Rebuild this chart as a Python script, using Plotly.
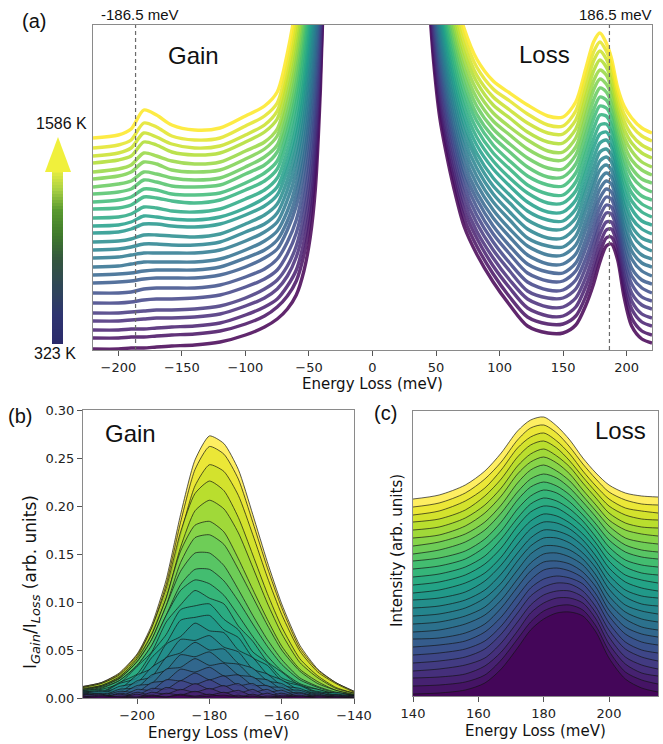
import plotly.graph_objects as go
from plotly.colors import sample_colorscale

W, H = 663, 744
N = 26  # temperatures 323 K ... 1586 K

# ---------------- Panel (a): stacked spectra (offset units, 0 = bottom of axis) -------------
energy_gain_a = [-220, -200, -190, -180, -170, -158, -140, -120, -100, -85, -75, -67, -60, -54, -49, -45, -41, -37]
# one row per curve, from 323 K (row 0) to 1586 K (row 25)
gain_a = [
    [1, 1, 2, 2, 3, 4, 5, 8, 15, 23, 31, 41, 55, 79, 113, 161, 261, 421],
    [12, 12, 13, 13, 14, 15, 16, 19, 26, 34, 43, 54, 69, 95, 131, 180, 278, 435],
    [20, 20, 21, 21, 22, 23, 24, 27, 35, 43, 51, 64, 80, 108, 145, 195, 293, 446],
    [29, 29, 30, 31, 32, 32, 33, 36, 44, 52, 61, 74, 93, 122, 161, 212, 308, 459],
    [37, 37, 38, 39, 40, 40, 41, 44, 52, 61, 70, 84, 104, 135, 176, 227, 323, 470],
    [47, 47, 48, 50, 51, 51, 52, 55, 63, 71, 80, 96, 117, 149, 193, 245, 339, 483],
    [57, 57, 58, 61, 62, 62, 62, 65, 73, 81, 91, 108, 130, 164, 209, 263, 355, 496],
    [67, 68, 69, 71, 72, 72, 72, 75, 83, 92, 101, 120, 144, 179, 226, 280, 372, 509],
    [75, 76, 77, 79, 80, 80, 80, 83, 92, 100, 110, 129, 155, 192, 241, 296, 386, 521],
    [83, 84, 86, 88, 88, 88, 88, 91, 100, 109, 119, 139, 166, 205, 255, 311, 401, 532],
    [92, 93, 95, 97, 97, 97, 97, 100, 109, 118, 128, 150, 178, 219, 271, 328, 416, 544],
    [100, 101, 103, 106, 106, 105, 105, 108, 118, 126, 137, 160, 190, 232, 286, 344, 430, 555],
    [108, 109, 111, 115, 115, 114, 113, 116, 126, 135, 146, 170, 201, 245, 301, 359, 445, 566],
    [117, 118, 121, 126, 126, 124, 123, 126, 135, 144, 155, 180, 213, 258, 316, 376, 460, 579],
    [124, 125, 128, 134, 133, 131, 130, 133, 142, 152, 163, 189, 223, 270, 330, 390, 474, 589],
    [132, 133, 136, 143, 142, 139, 138, 141, 151, 160, 172, 199, 235, 283, 345, 406, 488, 600],
    [141, 142, 145, 153, 152, 149, 147, 150, 160, 169, 181, 210, 247, 297, 361, 423, 503, 612],
    [148, 150, 153, 161, 160, 156, 155, 157, 167, 177, 189, 219, 257, 309, 374, 437, 517, 622],
    [156, 158, 161, 170, 168, 164, 163, 165, 176, 185, 198, 228, 268, 322, 389, 453, 531, 634],
    [163, 166, 169, 178, 176, 172, 170, 172, 183, 193, 205, 237, 279, 334, 403, 467, 545, 644],
    [171, 174, 178, 188, 186, 180, 178, 180, 191, 201, 214, 247, 290, 347, 417, 483, 559, 655],
    [178, 181, 185, 197, 194, 189, 186, 188, 199, 208, 221, 256, 300, 358, 431, 498, 572, 665],
    [187, 190, 194, 208, 205, 198, 195, 197, 208, 218, 231, 267, 312, 372, 447, 514, 588, 677],
    [194, 197, 202, 217, 213, 206, 202, 204, 215, 225, 239, 275, 323, 384, 461, 529, 601, 688],
    [202, 205, 210, 227, 223, 214, 210, 212, 224, 234, 247, 285, 334, 397, 475, 544, 616, 699],
    [212, 215, 221, 240, 235, 225, 220, 222, 234, 244, 258, 297, 347, 412, 492, 562, 632, 712],
]

energy_loss_a = [44, 48, 53, 58, 64, 72, 82, 95, 108, 122, 138, 150, 160, 168, 174, 179, 184, 188, 193, 198, 204, 212, 220]
# one row per energy, 26 values per row (323 K ... 1586 K)
loss_a_by_energy = [
    [360, 370, 379, 389, 398, 408, 418, 427, 437, 446, 456, 466, 475, 485, 494, 504, 514, 523, 533, 542, 552, 562, 571, 581, 590, 600],
    [290, 299, 308, 318, 327, 336, 345, 354, 364, 373, 382, 391, 400, 410, 419, 428, 437, 446, 456, 465, 474, 483, 492, 502, 511, 520],
    [232, 241, 249, 258, 267, 276, 284, 293, 302, 311, 319, 328, 337, 345, 354, 363, 372, 380, 389, 398, 406, 415, 424, 433, 441, 450],
    [197, 205, 213, 221, 230, 238, 246, 254, 262, 270, 278, 286, 294, 303, 311, 319, 327, 335, 343, 351, 359, 368, 376, 384, 392, 400],
    [162, 170, 178, 186, 194, 202, 210, 217, 225, 233, 241, 249, 257, 265, 273, 281, 289, 297, 305, 313, 320, 328, 336, 344, 352, 360],
    [124, 132, 140, 148, 156, 164, 172, 179, 187, 195, 203, 211, 219, 227, 235, 243, 251, 259, 267, 275, 282, 290, 298, 306, 314, 322],
    [96, 104, 112, 119, 127, 135, 143, 151, 158, 166, 174, 182, 190, 197, 205, 213, 221, 229, 236, 244, 252, 260, 268, 275, 283, 291],
    [68, 76, 84, 92, 100, 108, 116, 124, 132, 140, 148, 156, 164, 172, 181, 189, 197, 205, 213, 221, 229, 237, 245, 253, 261, 269],
    [45, 53, 62, 70, 79, 87, 96, 104, 113, 121, 130, 138, 147, 155, 164, 172, 181, 189, 198, 206, 215, 223, 232, 240, 249, 257],
    [24, 33, 42, 51, 59, 68, 77, 86, 95, 104, 112, 121, 130, 139, 148, 157, 165, 174, 183, 192, 201, 210, 218, 227, 236, 245],
    [17, 26, 34, 43, 52, 60, 69, 78, 86, 95, 104, 112, 121, 130, 138, 147, 156, 165, 173, 182, 191, 199, 208, 217, 225, 234],
    [17, 26, 34, 43, 52, 60, 69, 77, 86, 95, 103, 112, 121, 129, 138, 147, 155, 164, 173, 181, 190, 198, 207, 216, 224, 233],
    [25, 34, 43, 52, 61, 70, 79, 87, 96, 105, 114, 123, 132, 141, 150, 159, 168, 177, 186, 195, 203, 212, 221, 230, 239, 248],
    [45, 54, 64, 73, 83, 92, 102, 111, 121, 130, 140, 149, 159, 168, 178, 187, 197, 206, 216, 225, 235, 244, 254, 263, 273, 282],
    [66, 76, 85, 95, 105, 114, 124, 134, 143, 153, 163, 172, 182, 192, 202, 211, 221, 231, 240, 250, 260, 269, 279, 289, 298, 308],
    [88, 97, 106, 116, 125, 134, 143, 152, 161, 170, 180, 189, 198, 207, 216, 225, 235, 244, 253, 262, 271, 280, 290, 299, 308, 317],
    [104, 112, 120, 128, 137, 145, 153, 161, 169, 177, 185, 193, 201, 210, 218, 226, 234, 242, 250, 258, 266, 275, 283, 291, 299, 307],
    [106, 113, 121, 128, 136, 143, 151, 158, 166, 173, 180, 188, 195, 203, 210, 218, 225, 233, 240, 247, 255, 262, 270, 277, 285, 292],
    [90, 97, 104, 111, 118, 124, 131, 138, 145, 152, 159, 166, 173, 179, 186, 193, 200, 207, 214, 221, 228, 235, 241, 248, 255, 262],
    [53, 61, 68, 76, 84, 91, 99, 107, 114, 122, 129, 137, 145, 152, 160, 168, 175, 183, 191, 198, 206, 213, 221, 229, 236, 244],
    [24, 32, 41, 49, 57, 66, 74, 82, 91, 99, 107, 116, 124, 132, 141, 149, 157, 165, 174, 182, 190, 199, 207, 215, 224, 232],
    [11, 19, 28, 36, 45, 53, 62, 70, 79, 87, 95, 104, 112, 121, 129, 138, 146, 154, 163, 171, 180, 188, 197, 205, 214, 222],
    [7, 15, 24, 32, 41, 49, 57, 66, 74, 83, 91, 99, 108, 116, 125, 133, 141, 150, 158, 167, 175, 183, 192, 200, 209, 217],
]

# ---------------- Panel (b): gain / loss ratio ----------------
energy_b = [-215, -210, -205, -200, -196, -192, -188, -184, -180, -176, -172, -168, -164, -160, -155, -150, -145, -140]
ratio_b = [
    [0.000, 0.002, 0.001, 0.000, 0.002, 0.001, 0.003, 0.001, 0.002, 0.003, 0.001, 0.002, 0.000, 0.001, 0.002, 0.000, 0.001, 0.000],
    [0.002, 0.000, 0.002, 0.001, 0.003, 0.001, 0.004, 0.002, 0.004, 0.001, 0.003, 0.000, 0.002, 0.001, 0.000, 0.002, 0.001, 0.000],
    [0.001, 0.003, 0.000, 0.004, 0.001, 0.005, 0.003, 0.007, 0.003, 0.006, 0.001, 0.004, 0.000, 0.003, 0.001, 0.002, 0.000, 0.001],
    [0.002, 0.000, 0.004, 0.001, 0.006, 0.004, 0.009, 0.006, 0.010, 0.005, 0.008, 0.002, 0.005, 0.001, 0.003, 0.000, 0.002, 0.000],
    [0.003, 0.004, 0.000, 0.006, 0.003, 0.011, 0.008, 0.015, 0.009, 0.013, 0.005, 0.009, 0.002, 0.005, 0.000, 0.003, 0.001, 0.002],
    [0.004, 0.000, 0.005, 0.003, 0.010, 0.009, 0.018, 0.014, 0.019, 0.012, 0.015, 0.006, 0.009, 0.002, 0.005, 0.000, 0.003, 0.001],
    [0.003, 0.004, 0.001, 0.009, 0.008, 0.019, 0.018, 0.026, 0.019, 0.023, 0.013, 0.015, 0.006, 0.008, 0.001, 0.004, 0.000, 0.002],
    [0.005, 0.001, 0.007, 0.006, 0.016, 0.018, 0.030, 0.027, 0.032, 0.023, 0.024, 0.013, 0.013, 0.005, 0.006, 0.001, 0.003, 0.000],
    [0.004, 0.005, 0.004, 0.013, 0.015, 0.030, 0.032, 0.041, 0.034, 0.036, 0.024, 0.022, 0.012, 0.011, 0.003, 0.005, 0.002, 0.002],
    [0.006, 0.002, 0.009, 0.011, 0.024, 0.029, 0.045, 0.043, 0.048, 0.037, 0.035, 0.021, 0.019, 0.009, 0.008, 0.002, 0.003, 0.001],
    [0.005, 0.007, 0.006, 0.018, 0.022, 0.042, 0.047, 0.058, 0.050, 0.051, 0.036, 0.031, 0.018, 0.015, 0.005, 0.006, 0.001, 0.002],
    [0.007, 0.004, 0.012, 0.016, 0.032, 0.042, 0.061, 0.060, 0.065, 0.053, 0.048, 0.030, 0.025, 0.013, 0.010, 0.003, 0.004, 0.002],
    [0.006, 0.008, 0.009, 0.024, 0.031, 0.056, 0.064, 0.078, 0.070, 0.068, 0.050, 0.042, 0.025, 0.019, 0.008, 0.007, 0.003, 0.002],
    [0.008, 0.005, 0.015, 0.021, 0.042, 0.057, 0.081, 0.084, 0.086, 0.071, 0.063, 0.042, 0.034, 0.018, 0.013, 0.005, 0.006, 0.002],
    [0.007, 0.006, 0.016, 0.025, 0.047, 0.066, 0.092, 0.096, 0.098, 0.082, 0.071, 0.048, 0.037, 0.021, 0.014, 0.006, 0.005, 0.003],
    [0.008, 0.009, 0.015, 0.033, 0.048, 0.079, 0.097, 0.112, 0.104, 0.098, 0.075, 0.059, 0.038, 0.027, 0.013, 0.009, 0.004, 0.003],
    [0.007, 0.010, 0.018, 0.034, 0.055, 0.086, 0.112, 0.123, 0.119, 0.107, 0.086, 0.064, 0.044, 0.028, 0.015, 0.009, 0.004, 0.002],
    [0.007, 0.011, 0.018, 0.034, 0.054, 0.086, 0.118, 0.134, 0.134, 0.122, 0.101, 0.077, 0.054, 0.035, 0.019, 0.011, 0.005, 0.002],
    [0.008, 0.012, 0.020, 0.038, 0.061, 0.096, 0.132, 0.151, 0.151, 0.138, 0.113, 0.086, 0.061, 0.040, 0.021, 0.012, 0.006, 0.003],
    [0.009, 0.012, 0.020, 0.038, 0.061, 0.096, 0.141, 0.167, 0.170, 0.160, 0.134, 0.105, 0.076, 0.050, 0.028, 0.015, 0.008, 0.003],
    [0.009, 0.013, 0.021, 0.041, 0.066, 0.104, 0.153, 0.180, 0.184, 0.173, 0.145, 0.113, 0.082, 0.054, 0.030, 0.017, 0.008, 0.004],
    [0.010, 0.013, 0.022, 0.039, 0.066, 0.104, 0.157, 0.195, 0.206, 0.197, 0.172, 0.136, 0.099, 0.067, 0.037, 0.021, 0.010, 0.005],
    [0.011, 0.015, 0.024, 0.043, 0.073, 0.114, 0.173, 0.213, 0.226, 0.216, 0.188, 0.149, 0.109, 0.074, 0.041, 0.023, 0.011, 0.005],
    [0.011, 0.015, 0.023, 0.041, 0.068, 0.109, 0.170, 0.221, 0.243, 0.236, 0.211, 0.170, 0.126, 0.087, 0.049, 0.027, 0.015, 0.006],
    [0.012, 0.016, 0.025, 0.045, 0.073, 0.118, 0.183, 0.238, 0.262, 0.254, 0.228, 0.183, 0.136, 0.094, 0.052, 0.029, 0.016, 0.007],
    [0.012, 0.016, 0.026, 0.046, 0.076, 0.123, 0.191, 0.248, 0.273, 0.265, 0.238, 0.191, 0.142, 0.098, 0.055, 0.030, 0.016, 0.007],
]

# ---------------- Panel (c): stacked loss peak (offset units) ----------------
energy_c = [140, 148, 156, 162, 167, 172, 176, 180, 184, 188, 192, 196, 200, 205, 210, 215]
# one row per energy, 26 values per row (323 K ... 1586 K)
loss_c_by_energy = [
    [2, 10, 18, 25, 33, 41, 49, 57, 64, 72, 80, 88, 96, 103, 111, 119, 127, 135, 142, 150, 158, 166, 174, 181, 189, 197],
    [3, 11, 19, 27, 35, 43, 51, 58, 66, 74, 82, 90, 98, 106, 114, 122, 130, 138, 146, 154, 161, 169, 177, 185, 193, 201],
    [6, 14, 22, 31, 39, 47, 55, 63, 72, 80, 88, 96, 104, 113, 121, 129, 137, 145, 154, 162, 170, 178, 186, 195, 203, 211],
    [13, 21, 30, 38, 47, 55, 64, 72, 81, 89, 98, 106, 115, 123, 132, 140, 149, 157, 166, 174, 183, 191, 200, 208, 217, 225],
    [27, 36, 44, 53, 62, 70, 79, 88, 96, 105, 113, 122, 131, 139, 148, 157, 165, 174, 183, 191, 200, 208, 217, 226, 234, 243],
    [48, 57, 65, 74, 83, 91, 100, 109, 117, 126, 135, 143, 152, 161, 170, 178, 187, 196, 204, 213, 222, 230, 239, 248, 256, 265],
    [66, 74, 83, 91, 100, 108, 116, 125, 133, 142, 150, 158, 167, 175, 184, 192, 200, 209, 217, 226, 234, 242, 251, 259, 268, 276],
    [77, 85, 93, 101, 109, 117, 126, 134, 142, 150, 158, 166, 174, 182, 190, 198, 206, 214, 222, 231, 239, 247, 255, 263, 271, 279],
    [83, 90, 98, 105, 113, 120, 128, 135, 143, 150, 158, 165, 173, 180, 188, 195, 203, 210, 218, 225, 233, 240, 248, 255, 263, 270],
    [84, 91, 98, 105, 112, 118, 125, 132, 139, 146, 153, 160, 167, 173, 180, 187, 194, 201, 208, 215, 222, 229, 235, 242, 249, 256],
    [80, 86, 93, 99, 105, 112, 118, 124, 131, 137, 143, 150, 156, 162, 169, 175, 181, 187, 194, 200, 206, 213, 219, 225, 232, 238],
    [64, 70, 77, 83, 89, 96, 102, 109, 115, 121, 128, 134, 140, 147, 153, 159, 166, 172, 179, 185, 191, 198, 204, 210, 217, 223],
    [38, 45, 52, 59, 66, 73, 80, 86, 93, 100, 107, 114, 121, 128, 135, 142, 149, 156, 163, 170, 176, 183, 190, 197, 204, 211],
    [17, 24, 32, 39, 47, 54, 62, 69, 77, 84, 91, 99, 106, 114, 121, 129, 136, 144, 151, 158, 166, 173, 181, 188, 196, 203],
    [8, 16, 23, 31, 39, 46, 54, 62, 69, 77, 85, 92, 100, 108, 116, 123, 131, 139, 146, 154, 162, 169, 177, 185, 192, 200],
    [4, 12, 20, 27, 35, 43, 51, 59, 66, 74, 82, 90, 98, 105, 113, 121, 129, 137, 144, 152, 160, 168, 176, 183, 191, 199],
]

temp_labels = ["323 K", "1586 K"]
marker_lines = [-186.5, 186.5]

# ---------------------------------------------------------------------------
def px(x):
    return x / W


def py(y):
    return 1 - y / H


colors = sample_colorscale("Viridis", [i / (N - 1) for i in range(N)])


def rgba(c, a):
    v = c[c.index("(") + 1:c.index(")")].split(",")
    return "rgba(%d,%d,%d,%.2f)" % (round(float(v[0])), round(float(v[1])), round(float(v[2])), a)


fig = go.Figure()

# Panel (a)
for i in range(N):
    loss_i = [row[i] for row in loss_a_by_energy]
    xs = energy_gain_a + [None] + energy_loss_a
    ys = gain_a[i] + [None] + loss_i
    fig.add_trace(go.Scatter(x=xs, y=ys, mode="lines", xaxis="x", yaxis="y",
                             line=dict(color=rgba(colors[i], 0.85), width=3.4, shape="spline", smoothing=0.8),
                             connectgaps=False, showlegend=False, hoverinfo="skip"))

# Panel (b)
for i in range(N - 1, -1, -1):
    fig.add_trace(go.Scatter(x=energy_b, y=ratio_b[i], mode="lines", xaxis="x2", yaxis="y2",
                             fill="tozeroy", fillcolor=rgba(colors[i], 0.72),
                             line=dict(color="rgba(20,20,20,0.7)", width=1, shape="spline", smoothing=0.6),
                             showlegend=False, hoverinfo="skip"))

# Panel (c)
for i in range(N - 1, -1, -1):
    yc = [row[i] for row in loss_c_by_energy]
    fig.add_trace(go.Scatter(x=energy_c, y=yc, mode="lines", xaxis="x3", yaxis="y3",
                             fill="tozeroy", fillcolor=rgba(colors[i], 0.72),
                             line=dict(color="rgba(20,20,20,0.85)", width=0.8, shape="spline", smoothing=0.8),
                             showlegend=False, hoverinfo="skip"))

tickfont = dict(family="DejaVu Sans", size=13, color="#222")
common = dict(showline=True, linecolor="#8a8a8a", linewidth=1, mirror=True, showgrid=False,
              zeroline=False, ticklen=5, tickcolor="#555", tickfont=tickfont, automargin=False)

fig.update_layout(
    template="none",
    width=W, height=H, margin=dict(l=0, r=0, t=0, b=0, pad=0),
    paper_bgcolor="white", plot_bgcolor="white", showlegend=False,
    xaxis=dict(domain=[px(93), px(652)], range=[-220, 220], anchor="y", tick0=0, dtick=50, ticks="outside", **common),
    yaxis=dict(domain=[py(350), py(25)], range=[0, 325], anchor="x", showticklabels=False, ticks="", **common),
    xaxis2=dict(domain=[px(83), px(354)], range=[-215, -140], anchor="y2", tickvals=[-200, -180, -160, -140],
                ticks="outside", **common),
    yaxis2=dict(domain=[py(698), py(410)], range=[0, 0.30], anchor="x2", tickvals=[0, 0.05, 0.10, 0.15, 0.20, 0.25, 0.30],
                tickformat=".2f", ticks="outside", **common),
    xaxis3=dict(domain=[px(413), px(658)], range=[140, 215], anchor="y3", tickvals=[140, 160, 180, 200],
                ticks="outside", **common),
    yaxis3=dict(domain=[py(696), py(411)], range=[0, 285], anchor="x3", showticklabels=False, ticks="", **common),
)

shapes = []
for xv in marker_lines:
    shapes.append(dict(type="line", xref="x", yref="y domain", x0=xv, x1=xv, y0=0, y1=1,
                       line=dict(color="#6a6a6a", width=1.2, dash="4px,3px")))

# temperature arrow (gradient shaft + head)
stops = [(344, (43, 42, 107)), (315, (46, 52, 112)), (288, (47, 70, 88)), (260, (52, 86, 63)),
         (235, (63, 122, 44)), (210, (90, 154, 47)), (190, (168, 208, 68)), (171, (232, 238, 64))]


def grad(yv):
    for (y0, c0), (y1, c1) in zip(stops[:-1], stops[1:]):
        if y1 <= yv <= y0:
            t = (y0 - yv) / (y0 - y1)
            return "rgb(%d,%d,%d)" % tuple(round(c0[k] + t * (c1[k] - c0[k])) for k in range(3))
    return "rgb(%d,%d,%d)" % stops[-1][1]


yv = 344
while yv > 171:
    shapes.append(dict(type="rect", xref="paper", yref="paper", x0=px(52), x1=px(63),
                       y0=py(yv), y1=py(yv - 3.5), fillcolor=grad(yv - 1.5), line=dict(width=0), layer="above"))
    yv -= 3
shapes.append(dict(type="path", xref="paper", yref="paper",
                   path="M %f,%f L %f,%f L %f,%f Z" % (px(45), py(172), px(71), py(172), px(58), py(137)),
                   fillcolor="rgb(240,240,60)", line=dict(width=0)))
fig.update_layout(shapes=shapes)

helv = "Liberation Sans, Arial, Helvetica, sans-serif"
dv = "DejaVu Sans, sans-serif"


def ann(text, x, y, size, family=helv, angle=0):
    return dict(text=text, x=px(x), y=py(y), xref="paper", yref="paper", showarrow=False,
                xanchor="center", yanchor="middle", textangle=angle,
                font=dict(family=family, size=size, color="#111"))


ratio_label = ("I<sub><i><span style='font-size:13px'>Gain</span></i></sub>/"
               "I<sub><i><span style='font-size:13px'>Loss</span></i></sub> (arb. units)")

annotations = [
    ann("(a)", 34, 21, 20),
    ann("(b)", 20, 416, 20),
    ann("(c)", 385, 413, 20),
    ann("-186.5 meV", 140, 15, 15),
    ann("186.5 meV", 615, 15, 15),
    ann("Gain", 193, 55, 24),
    ann("Loss", 544, 54, 24),
    ann("Gain", 130, 433, 24),
    ann("Loss", 620, 430, 24),
    ann(temp_labels[1], 61, 124, 16),
    ann(temp_labels[0], 55, 353, 16),
    ann("Energy Loss (meV)", 372, 384, 15, dv),
    ann("Energy Loss (meV)", 218, 733, 15, dv),
    ann("Energy Loss (meV)", 535, 731, 15, dv),
    ann(ratio_label, 31, 582, 17, dv, -90),
    ann("Intensity (arb. units)", 397, 551, 15, dv, -90),
]
fig.update_layout(annotations=annotations)

fig.write_html("out.html", config={"displayModeBar": False},
               post_script="document.body.style.margin='0px';document.body.style.overflow='hidden';")
